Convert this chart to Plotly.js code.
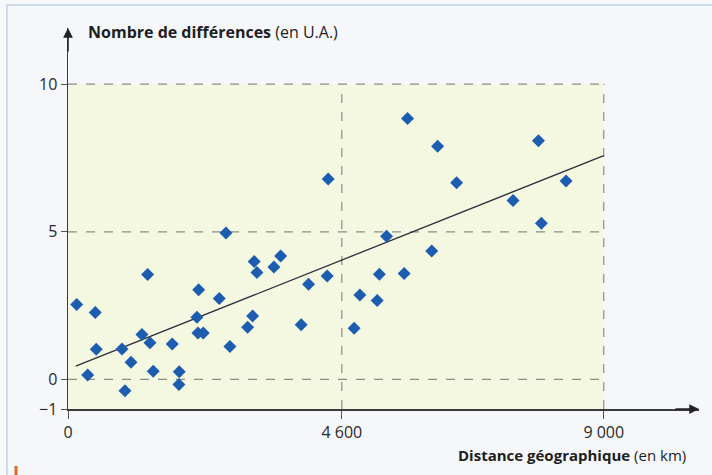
<!DOCTYPE html>
<html>
<head>
<meta charset="utf-8">
<script src="https://cdn.plot.ly/plotly-3.0.1.min.js"></script>
<style>html,body{margin:0;padding:0;background:#f6f7fb;}#chart{width:712px;height:475px;}</style>
</head>
<body>
<div id="chart"></div>
<script>
// Data (distance in km, differences in U.A.)
const distanceKm = [146, 331, 458, 475, 907, 957, 1058, 1242, 1338, 1377, 1432, 1751, 1869, 1864,
  2166, 2195, 2183, 2272, 2541, 2653, 2720, 3017, 3101, 3128, 3174, 3459, 3572, 3917, 4041, 4354,
  4371, 4807, 4903, 5194, 5231, 5351, 5647, 5704, 6110, 6209, 6528, 7477, 7903, 7952, 8367];
const differences = [2.54, 0.15, 2.27, 1.02, 1.03, -0.38, 0.58, 1.52, 3.55, 1.24, 0.28, 1.20, 0.26, -0.17,
  2.11, 3.04, 1.57, 1.57, 2.74, 4.96, 1.12, 1.77, 2.15, 3.99, 3.62, 3.81, 4.18, 1.85, 3.22, 3.50,
  6.79, 1.73, 2.86, 2.67, 3.56, 4.85, 3.59, 8.84, 4.35, 7.90, 6.66, 6.06, 8.08, 5.29, 6.72];
const trendX = [130, 9000];
const trendY = [0.45, 7.58];
const xTickVals = [0, 4600, 9000];
const xTickText = ['0', '4 600', '9 000'];
const yTickVals = [-1, 0, 5, 10];
const yTickText = ['\u22121', '0', '5', '10'];
const yGrid = [0, 5, 10];
const xGrid = [4600, 9000];

const FONT = '"Open Sans", "Noto Sans", sans-serif';
const gridColor = '#8c8c8c';
const shapes = [
  {type:'rect', xref:'x', yref:'y', x0:0, x1:9000, y0:-1, y1:10, fillcolor:'#f4f8e1', line:{width:0}, layer:'below'}
];
yGrid.forEach(v => shapes.push({type:'line', xref:'x', yref:'y', x0:0, x1:9000, y0:v, y1:v,
  line:{color:gridColor, width:1.2, dash:'dash'}, layer:'below'}));
xGrid.forEach(v => shapes.push({type:'line', xref:'x', yref:'y', x0:v, x1:v, y0:-1, y1:10,
  line:{color:gridColor, width:1.2, dash:'dash'}, layer:'below'}));
// page decoration (frame of the textbook box)
shapes.push({type:'line', xref:'paper', yref:'paper', x0:-0.0967, x1:-0.0967, y0:1.0604, y1:-0.1732, line:{color:'#bcd0e6', width:1.5}});
shapes.push({type:'line', xref:'paper', yref:'paper', x0:-0.0967, x1:1.03, y0:1.0604, y1:1.0604, line:{color:'#bcd0e6', width:1.5}});
shapes.push({type:'line', xref:'paper', yref:'paper', x0:-0.0824, x1:-0.0824, y0:-0.1496, y1:-0.1732, line:{color:'#e0672a', width:3}});

const traces = [
  {x: trendX, y: trendY, type:'scatter', mode:'lines', line:{color:'#2b2f3a', width:1.3}, hoverinfo:'skip'},
  {x: distanceKm, y: differences, type:'scatter', mode:'markers',
   marker:{symbol:'diamond', size:10, color:'#1c5db0', line:{width:0}}}
];

const layout = {
  width:712, height:475,
  margin:{l:68, r:13, t:28, b:66},
  paper_bgcolor:'#f6f7fb', plot_bgcolor:'rgba(0,0,0,0)',
  showlegend:false,
  font:{family:FONT, color:'#2a2a2a', size:16},
  xaxis:{range:[0,10600], showgrid:false, zeroline:false, showline:true, linecolor:'#3a3a3a', linewidth:1.5,
    tickmode:'array', tickvals:xTickVals, ticktext:xTickText, ticks:'outside', ticklen:8, tickcolor:'#555', tickwidth:1,
    tickfont:{family:FONT, size:16, color:'#2a2a2a'}},
  yaxis:{range:[-1,11.9], showgrid:false, zeroline:false, showline:true, linecolor:'#3a3a3a', linewidth:1.5,
    tickmode:'array', tickvals:yTickVals, ticktext:yTickText, ticks:'outside', ticklen:6, tickcolor:'#555', tickwidth:1,
    tickfont:{family:FONT, size:16, color:'#2a2a2a'}},
  shapes: shapes,
  annotations:[
    {xref:'x', yref:'y', x:10600, y:-1, ax:-25, ay:0, text:'', showarrow:true, arrowhead:2, arrowsize:1.3, arrowwidth:1.5, arrowcolor:'#222'},
    {xref:'x', yref:'y', x:0, y:11.9, ax:0, ay:25, text:'', showarrow:true, arrowhead:2, arrowsize:1.3, arrowwidth:1.5, arrowcolor:'#222'},
    {xref:'x', yref:'y', x:302, y:11.76, xanchor:'left', yanchor:'middle', showarrow:false,
     text:'<b>Nombre de différences</b> (en U.A.)', font:{family:FONT, size:16, color:'#1e1e1e'}},
    {xref:'paper', yref:'paper', x:0.9826, y:-0.1207, xanchor:'right', yanchor:'middle', showarrow:false,
     text:'<b>Distance géographique</b> (en km)', font:{family:FONT, size:15, color:'#1e1e1e'}}
  ]
};
Plotly.newPlot('chart', traces, layout, {displayModeBar:false, staticPlot:true});
</script>
</body>
</html>
